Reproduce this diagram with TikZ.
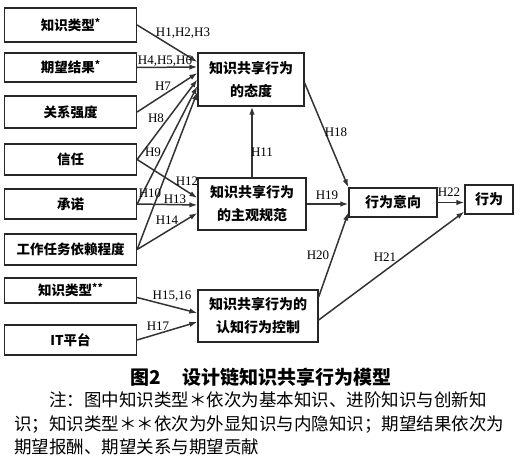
\documentclass[tikz,border=0pt]{standalone}
\usepackage{fontspec}
\setmainfont{Liberation Serif}
\newfontfamily\cjk{Noto Sans CJK SC}
\usetikzlibrary{arrows.meta}
\newcommand{\starmark}[1]{\raisebox{4pt}{\fontsize{10}{10}\selectfont\bfseries #1}}

\begin{document}
\begin{tikzpicture}[x=1pt,y=-1pt,>={Latex[length=8pt,width=5.5pt]},
    factor/.style={draw=black!85, line width=1.3pt, inner sep=0pt,
        minimum width=132pt, font=\cjk\bfseries\fontsize{13.5}{16}\selectfont},
    construct/.style={draw=black!85, line width=1.3pt, inner sep=0pt,
        align=center, font=\cjk\bfseries\fontsize{14}{23}\selectfont},
    link/.style={->, line width=1.5pt, black!80},
    hyp/.style={font=\fontsize{13}{15}\selectfont, inner sep=1pt}]

  \useasboundingbox (0,0) rectangle (529,465);

  % ---- antecedents, left column ----
  \node[factor, minimum height=34pt] (kt1) at (70.5,25)    {知识类型\starmark{*}};
  \node[factor, minimum height=29pt] (ex)  at (70.5,67.5)  {期望结果\starmark{*}};
  \node[factor, minimum height=32pt] (rel) at (70.5,112)   {关系强度};
  \node[factor, minimum height=31pt] (tru) at (70.5,159.5) {信任};
  \node[factor, minimum height=30pt] (com) at (70.5,204)   {承诺};
  \node[factor, minimum height=31pt] (dep) at (70.5,249.5) {工作任务依赖程度};
  \node[factor, minimum height=25pt] (kt2) at (70.5,290.5) {知识类型\starmark{**}};
  \node[factor, minimum height=30pt] (itp) at (70.5,340)   {IT平台};

  % ---- the three constructs ----
  \node[construct, minimum width=106pt, minimum height=53pt] (att) at (251,79.5)
      {知识共享行为\\的态度};
  \node[construct, minimum width=108pt, minimum height=52pt] (sn) at (252,204)
      {知识共享行为\\的主观规范};
  \node[construct, minimum width=120pt, minimum height=52pt] (pbc) at (258,316)
      {知识共享行为的\\认知行为控制};

  % ---- intention and behaviour ----
  \node[construct, minimum width=88pt, minimum height=29pt] (int) at (393,202.5)
      {行为意向};
  \node[construct, minimum width=48pt, minimum height=29pt] (beh) at (489,199.5)
      {行为};

  % ---- paths into the attitude ----
  \draw[link] (kt1.east) -- ([yshift=17.5pt]att.west);
  \draw[link] (ex.east)  -- ([yshift=12.5pt]att.west);
  \draw[link] (rel.east) -- ([yshift=6.5pt]att.west);
  \draw[link] (tru.east) -- ([yshift=0pt]att.west);
  \draw[link] (com.east) -- ([yshift=-6.5pt]att.west);
  \draw[link] (dep.east) -- ([yshift=-12.5pt]att.west);
  \draw[link] (sn.north) -- (sn.north |- att.south);

  % ---- paths into the subjective norm ----
  \draw[link] (tru.east) -- ([yshift=6pt]sn.west);
  \draw[link] (com.east) -- ([yshift=-1pt]sn.west);
  \draw[link] (dep.east) -- ([yshift=-9pt]sn.west);

  % ---- paths into the behavioural control ----
  \draw[link] ([yshift=-7pt]kt2.east) -- ([yshift=3pt]pbc.west);
  \draw[link] (itp.east) -- ([yshift=-6pt]pbc.west);

  % ---- paths to intention and behaviour ----
  \draw[link] ([yshift=-3.5pt]att.east) -- (int.north west);
  \draw[link] (sn.east) -- (sn.east -| int.west);
  \draw[link] ([yshift=19pt]pbc.east) -- ([yshift=-10pt]int.west);
  \draw[link] ([yshift=-4pt]pbc.east) -- ([yshift=3pt]beh.south west);
  \draw[link] (int.east) -- (int.east -| beh.west);

  % ---- hypothesis labels ----
  \node[hyp] (h1)  at (183,33)  {H1,H2,H3};
  \node[hyp] (h4)  at (165,61)  {H4,H5,H6};
  \node[hyp] (h7)  at (163,86)  {H7};
  \node[hyp] (h8)  at (156,118) {H8};
  \node[hyp] (h9)  at (153,152) {H9};
  \node[hyp] (h10) at (150,193) {H10};
  \node[hyp] (h11) at (262,152) {H11};
  \node[hyp] (h12) at (187,181) {H12};
  \node[hyp] (h13) at (175,199) {H13};
  \node[hyp] (h14) at (167,220) {H14};
  \node[hyp] (h15) at (172,296) {H15,16};
  \node[hyp] (h17) at (158,326) {H17};
  \node[hyp] (h18) at (336,132) {H18};
  \node[hyp] (h19) at (327,195) {H19};
  \node[hyp] (h20) at (318,255) {H20};
  \node[hyp] (h21) at (385,257) {H21};
  \node[hyp] (h22) at (449,192) {H22};

  % ---- caption and note ----
  \node[font=\cjk\bfseries\fontsize{19}{22}\selectfont, inner sep=0pt] (cap) at (261,377)
      {图2\hspace{22pt}设计链知识共享行为模型};
  \node[font=\cjk\fontsize{17.5}{23.5}\selectfont, inner sep=0pt, align=left,
        anchor=north west] (note) at (14,392)
      {\hspace*{35pt}注：图中知识类型＊依次为基本知识、进阶知识与创新知\\
       识；知识类型＊＊依次为外显知识与内隐知识；期望结果依次为\\
       期望报酬、期望关系与期望贡献};

\end{tikzpicture}
\end{document}
